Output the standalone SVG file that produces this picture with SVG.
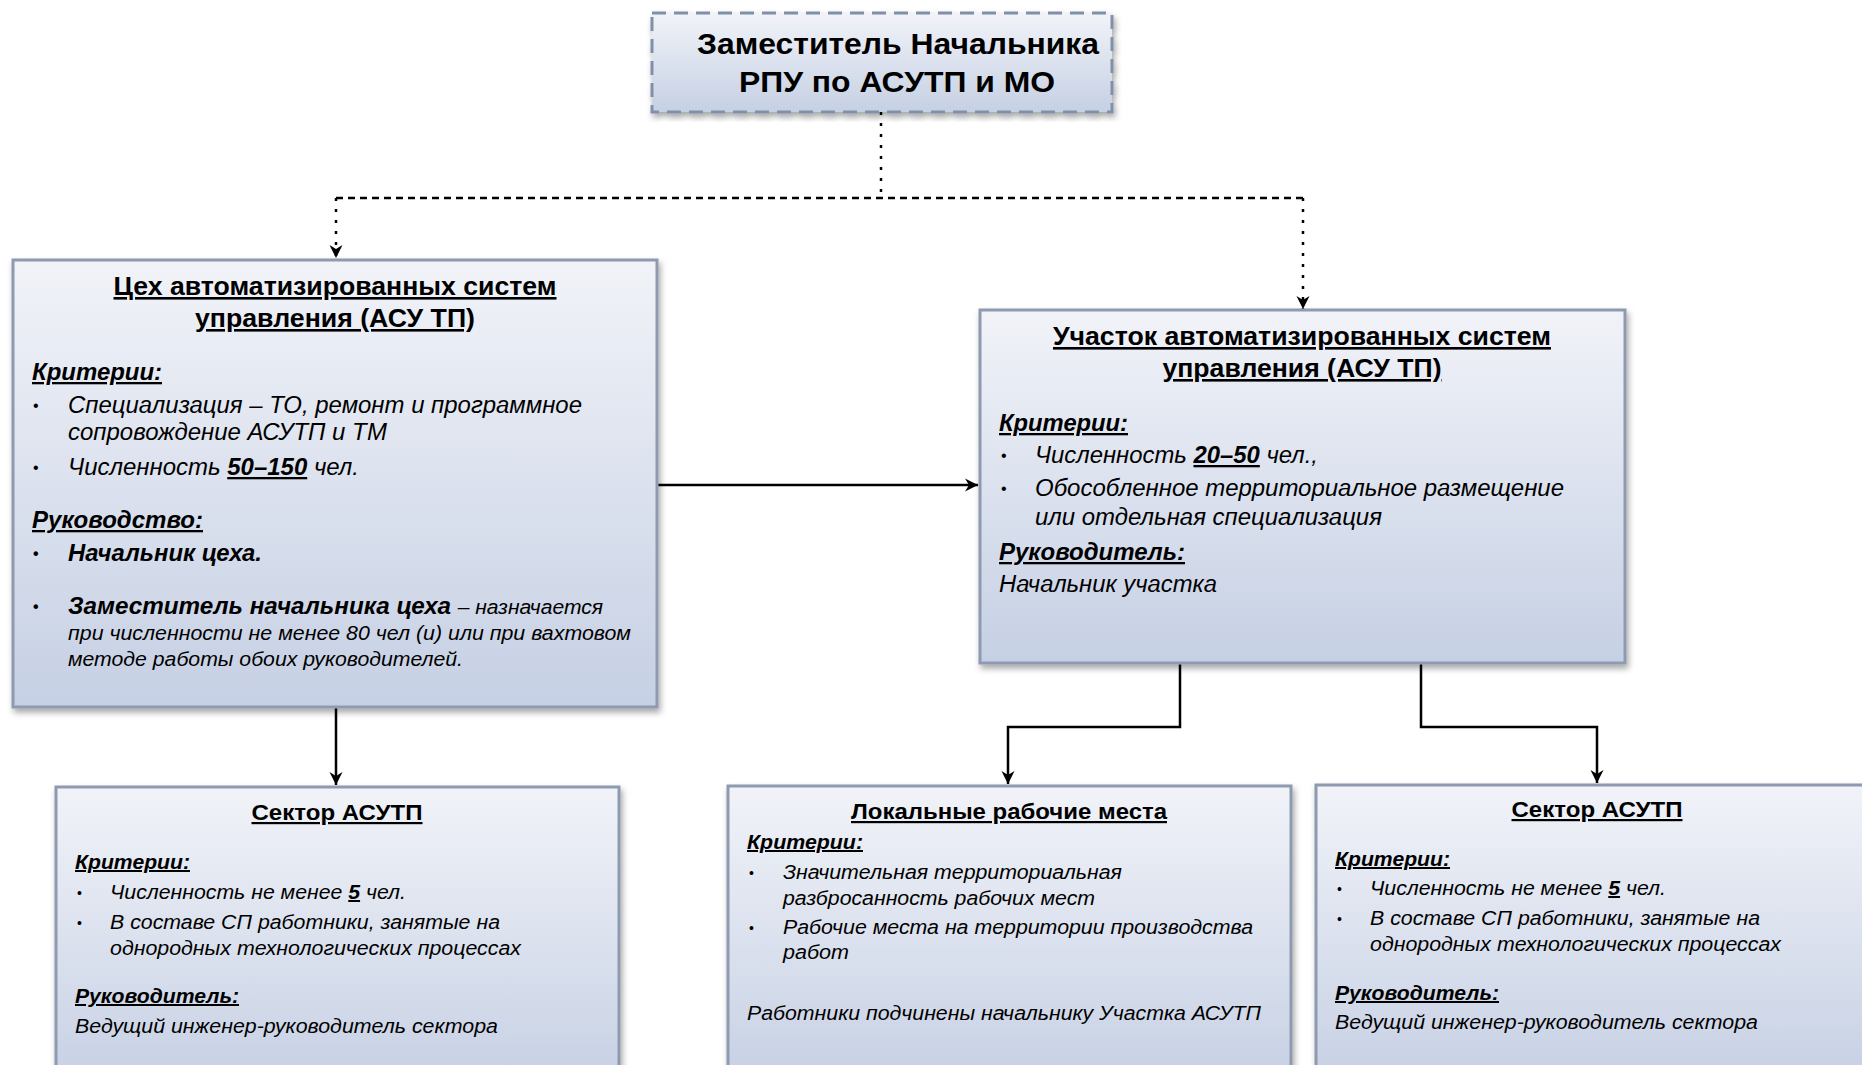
<svg xmlns="http://www.w3.org/2000/svg" width="1862" height="1065" viewBox="0 0 1862 1065">
<defs>
<linearGradient id="g" x1="0" y1="0" x2="0" y2="1">
<stop offset="0" stop-color="#f1f3f8"/>
<stop offset="1" stop-color="#c6d0e4"/>
</linearGradient>
<filter id="sh" x="-5%" y="-5%" width="110%" height="115%">
<feDropShadow dx="2" dy="4" stdDeviation="3" flood-color="#000" flood-opacity="0.35"/>
</filter>
<marker id="ah" markerWidth="16" markerHeight="16" refX="13" refY="8" orient="auto" markerUnits="userSpaceOnUse">
<path d="M0,1.5 L13,8 L0,14.5 L4,8 Z" fill="#000"/>
</marker>
<style>
.box{fill:url(#g);stroke:#8d9ab0;stroke-width:3;filter:url(#sh)}
.boxd{fill:url(#g);stroke:#8090a8;stroke-width:3;stroke-dasharray:14,8;filter:url(#sh)}
text{font-family:"Liberation Sans",Arial,sans-serif;fill:#000}
.t{font-weight:bold;font-size:26px;text-decoration:underline;text-anchor:middle}
.ts{font-weight:bold;font-size:22px;text-decoration:underline;text-anchor:middle}
.h{font-weight:bold;font-style:italic;font-size:23px;text-decoration:underline}
.hs{font-weight:bold;font-style:italic;font-size:20px;text-decoration:underline}
.b{font-style:italic;font-size:23px}
.bs{font-style:italic;font-size:20px}
.bb{font-style:italic;font-weight:bold;font-size:23px}
.dot{font-size:16px}
.u{font-weight:bold;text-decoration:underline}
.con{fill:none;stroke:#000;stroke-width:2.5}
.dash{fill:none;stroke:#000;stroke-width:2.5;stroke-dasharray:7,5}
.dots{fill:none;stroke:#000;stroke-width:2.5;stroke-dasharray:3,8}
</style>
</defs>

<g id="connectors">
<path class="dots" d="M881,112 V198"/>
<path class="dash" d="M336,198 H1303"/>
<path class="dots" d="M336,198 V258" marker-end="url(#ah)"/>
<path class="dots" d="M1303,198 V309" marker-end="url(#ah)"/>
<path class="con" d="M657,485 H978" marker-end="url(#ah)"/>
<path class="con" d="M336,707 V785" marker-end="url(#ah)"/>
<path class="con" d="M1180,663 V727 H1008 V784" marker-end="url(#ah)"/>
<path class="con" d="M1421,663 V727 H1597 V783" marker-end="url(#ah)"/>
</g>

<g id="node-top">
<rect class="boxd" x="652" y="13" width="460" height="99"/>
<text x="898" y="54" style="font-weight:bold;font-size:30px;text-anchor:middle" textLength="402" lengthAdjust="spacingAndGlyphs">Заместитель Начальника</text>
<text x="897" y="92" style="font-weight:bold;font-size:30px;text-anchor:middle" textLength="316" lengthAdjust="spacingAndGlyphs">РПУ по АСУТП и МО</text>
</g>

<g id="node-ceh">
<rect class="box" x="13" y="260" width="644" height="447"/>
<text class="t" x="335" y="295" textLength="443" lengthAdjust="spacingAndGlyphs">Цех автоматизированных систем</text>
<text class="t" x="335" y="327" textLength="280" lengthAdjust="spacingAndGlyphs">управления (АСУ ТП)</text>
<text class="h" x="32" y="380" textLength="130" lengthAdjust="spacingAndGlyphs">Критерии:</text>
<text class="dot" x="33" y="411">•</text>
<text class="b" x="68" y="413" textLength="514" lengthAdjust="spacingAndGlyphs">Специализация – ТО, ремонт и программное</text>
<text class="b" x="68" y="440" textLength="319" lengthAdjust="spacingAndGlyphs">сопровождение АСУТП и ТМ</text>
<text class="dot" x="33" y="473">•</text>
<text class="b" x="68" y="475" textLength="291" lengthAdjust="spacingAndGlyphs">Численность <tspan class="u">50–150</tspan> чел.</text>
<text class="h" x="32" y="528" textLength="171" lengthAdjust="spacingAndGlyphs">Руководство:</text>
<text class="dot" x="33" y="559" style="font-weight:bold">•</text>
<text class="bb" x="68" y="561" textLength="194" lengthAdjust="spacingAndGlyphs">Начальник цеха.</text>
<text class="dot" x="33" y="612" style="font-weight:bold">•</text>
<text class="bb" x="68" y="614" textLength="535" lengthAdjust="spacingAndGlyphs">Заместитель начальника цеха <tspan style="font-weight:normal;font-size:20px">– назначается</tspan></text>
<text class="bs" x="68" y="640" textLength="563" lengthAdjust="spacingAndGlyphs">при численности не менее 80 чел (и) или при вахтовом</text>
<text class="bs" x="68" y="666" textLength="395" lengthAdjust="spacingAndGlyphs">методе работы обоих руководителей.</text>
</g>

<g id="node-uchastok">
<rect class="box" x="980" y="310" width="645" height="353"/>
<text class="t" x="1302" y="345" textLength="498" lengthAdjust="spacingAndGlyphs">Участок автоматизированных систем</text>
<text class="t" x="1302" y="377" textLength="279" lengthAdjust="spacingAndGlyphs">управления (АСУ ТП)</text>
<text class="h" x="999" y="431" textLength="129" lengthAdjust="spacingAndGlyphs">Критерии:</text>
<text class="dot" x="1001" y="461">•</text>
<text class="b" x="1035" y="463" textLength="283" lengthAdjust="spacingAndGlyphs">Численность <tspan class="u">20–50</tspan> чел.,</text>
<text class="dot" x="1001" y="494">•</text>
<text class="b" x="1035" y="496" textLength="529" lengthAdjust="spacingAndGlyphs">Обособленное территориальное размещение</text>
<text class="b" x="1035" y="525" textLength="347" lengthAdjust="spacingAndGlyphs">или отдельная специализация</text>
<text class="h" x="999" y="560" textLength="186" lengthAdjust="spacingAndGlyphs">Руководитель:</text>
<text class="b" x="999" y="592" textLength="218" lengthAdjust="spacingAndGlyphs">Начальник участка</text>
</g>

<g id="node-sector-left">
<rect class="box" x="56" y="787" width="563" height="300"/>
<text class="ts" x="337" y="820" textLength="171" lengthAdjust="spacingAndGlyphs">Сектор АСУТП</text>
<text class="hs" x="75" y="869" textLength="115" lengthAdjust="spacingAndGlyphs">Критерии:</text>
<text class="dot" x="77" y="898" style="font-size:14px">•</text>
<text class="bs" x="110" y="899" textLength="296" lengthAdjust="spacingAndGlyphs">Численность не менее <tspan class="u">5</tspan> чел.</text>
<text class="dot" x="77" y="928" style="font-size:14px">•</text>
<text class="bs" x="110" y="929" textLength="390" lengthAdjust="spacingAndGlyphs">В составе СП работники, занятые на</text>
<text class="bs" x="110" y="955" textLength="411" lengthAdjust="spacingAndGlyphs">однородных технологических процессах</text>
<text class="hs" x="75" y="1003" textLength="164" lengthAdjust="spacingAndGlyphs">Руководитель:</text>
<text class="bs" x="75" y="1033" textLength="423" lengthAdjust="spacingAndGlyphs">Ведущий инженер-руководитель сектора</text>
</g>

<g id="node-local">
<rect class="box" x="728" y="786" width="563" height="300"/>
<text class="ts" x="1009" y="819" textLength="316" lengthAdjust="spacingAndGlyphs">Локальные рабочие места</text>
<text class="hs" x="747" y="849" textLength="116" lengthAdjust="spacingAndGlyphs">Критерии:</text>
<text class="dot" x="749" y="878" style="font-size:14px">•</text>
<text class="bs" x="783" y="879" textLength="339" lengthAdjust="spacingAndGlyphs">Значительная территориальная</text>
<text class="bs" x="783" y="905" textLength="312" lengthAdjust="spacingAndGlyphs">разбросанность рабочих мест</text>
<text class="dot" x="749" y="933" style="font-size:14px">•</text>
<text class="bs" x="783" y="934" textLength="470" lengthAdjust="spacingAndGlyphs">Рабочие места на территории производства</text>
<text class="bs" x="783" y="959" textLength="66" lengthAdjust="spacingAndGlyphs">работ</text>
<text class="bs" x="747" y="1020" textLength="514" lengthAdjust="spacingAndGlyphs">Работники подчинены начальнику Участка АСУТП</text>
</g>

<g id="node-sector-right">
<rect class="box" x="1316" y="785" width="563" height="300"/>
<text class="ts" x="1597" y="817" textLength="171" lengthAdjust="spacingAndGlyphs">Сектор АСУТП</text>
<text class="hs" x="1335" y="866" textLength="115" lengthAdjust="spacingAndGlyphs">Критерии:</text>
<text class="dot" x="1337" y="894" style="font-size:14px">•</text>
<text class="bs" x="1370" y="895" textLength="296" lengthAdjust="spacingAndGlyphs">Численность не менее <tspan class="u">5</tspan> чел.</text>
<text class="dot" x="1337" y="924" style="font-size:14px">•</text>
<text class="bs" x="1370" y="925" textLength="390" lengthAdjust="spacingAndGlyphs">В составе СП работники, занятые на</text>
<text class="bs" x="1370" y="951" textLength="411" lengthAdjust="spacingAndGlyphs">однородных технологических процессах</text>
<text class="hs" x="1335" y="1000" textLength="164" lengthAdjust="spacingAndGlyphs">Руководитель:</text>
<text class="bs" x="1335" y="1029" textLength="423" lengthAdjust="spacingAndGlyphs">Ведущий инженер-руководитель сектора</text>
</g>
</svg>
